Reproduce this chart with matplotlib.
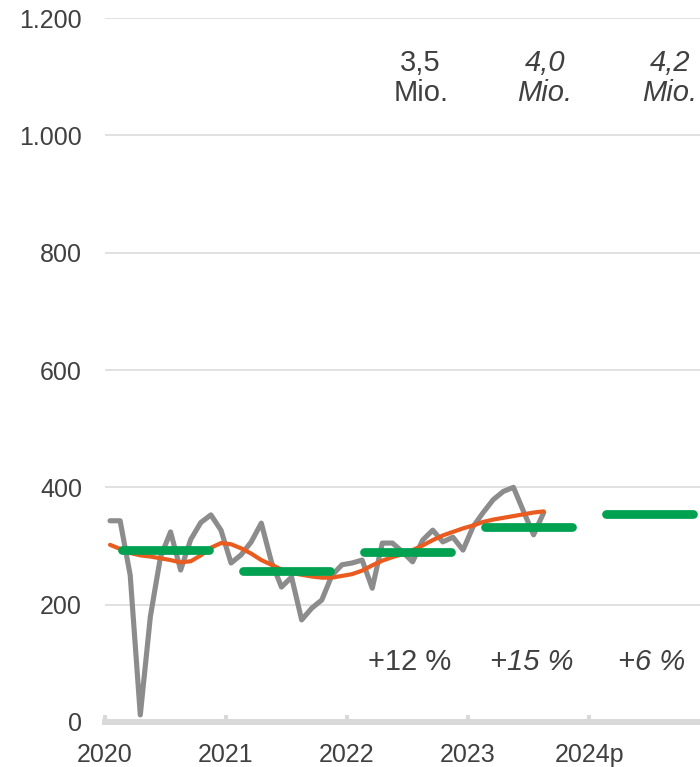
import matplotlib
matplotlib.use("Agg")
import matplotlib.pyplot as plt
import numpy as np

plt.rcParams['font.family'] = ['Liberation Sans', 'DejaVu Sans']

# ---- data ----
year_labels = ['2020', '2021', '2022', '2023', '2024p']

monthly = [343, 343, 250, 12, 180, 281, 324, 259, 311, 340, 353, 327,
           271, 285, 307, 339, 273, 230, 247, 174, 194, 208, 250, 268,
           271, 276, 228, 305, 305, 290, 273, 310, 327, 307, 315, 293,
           333, 357, 379, 393, 400, 359, 319, 357]

trend = [302, 295, 288, 284, 282, 279, 276, 272, 274, 284, 297, 305,
         303, 296, 287, 276, 268, 260, 254, 251, 248, 246, 246, 249,
         252, 258, 267, 275, 281, 286, 293, 301, 310, 318, 324, 330,
         335, 341, 345, 348, 351, 354, 357, 359]

annual_avg = [293, 257, 290, 332, 355]

totals = ['3,5\nMio.', '4,0\nMio.', '4,2\nMio.']
totals_italic = [False, True, True]
growth = ['+12 %', '+15 %', '+6 %']
growth_italic = [False, True, True]

y_ticks = [0, 200, 400, 600, 800, 1000, 1200]
y_tick_labels = ['0', '200', '400', '600', '800', '1.000', '1.200']

# ---- style ----
GRAY = '#8c8c8c'
ORANGE = '#ea5b1f'
GREEN = '#00a151'
GRID = '#d9d9d9'
TXT = '#404040'

fig = plt.figure(figsize=(7.0, 7.67), dpi=100)
ax = fig.add_axes([0.15, 0.0587, 0.85, 0.9178])

x_month = np.arange(len(monthly)) + 0.5
ax.plot(x_month, monthly, color=GRAY, lw=3.7, solid_joinstyle='round',
        solid_capstyle='round', zorder=3)
ax.plot(x_month, trend, color=ORANGE, lw=3.0, solid_joinstyle='round',
        solid_capstyle='round', zorder=4)

for i, v in enumerate(annual_avg):
    ax.plot([12 * i + 1.7, 12 * i + 10.3], [v, v], color=GREEN, lw=6.3,
            solid_capstyle='round', zorder=5)

# annotations
tot_x = [31.3, 43.6, 56.0]
for i, t in enumerate(totals):
    ax.text(tot_x[i], 1098, t, ha='center', va='center', fontsize=21,
            color=TXT, style='italic' if totals_italic[i] else 'normal',
            linespacing=1.1)
gr_x = [30.2, 42.3, 54.2]
for i, t in enumerate(growth):
    ax.text(gr_x[i], 102, t, ha='center', va='center', fontsize=21,
            color=TXT, style='italic' if growth_italic[i] else 'normal')

ax.set_xlim(0, 59)
ax.set_ylim(0, 1200)

ax.set_yticks(y_ticks)
ax.set_yticklabels(y_tick_labels)
ax.set_xticks([12 * i for i in range(len(year_labels))])
ax.set_xticklabels(year_labels)

ax.grid(axis='y', color=GRID, lw=1.1, zorder=0)
ax.set_axisbelow(True)

for s in ['left', 'right', 'top']:
    ax.spines[s].set_visible(False)
ax.spines['bottom'].set_color(GRID)
ax.spines['bottom'].set_linewidth(4.3)
ax.spines['bottom'].set_zorder(2)

ax.tick_params(axis='y', length=0, pad=16.5, labelsize=18, labelcolor=TXT)
ax.tick_params(axis='x', direction='in', length=5, width=2.9, color=GRID,
               pad=15, labelsize=18, labelcolor=TXT)

fig.savefig('out.png', dpi=100)
